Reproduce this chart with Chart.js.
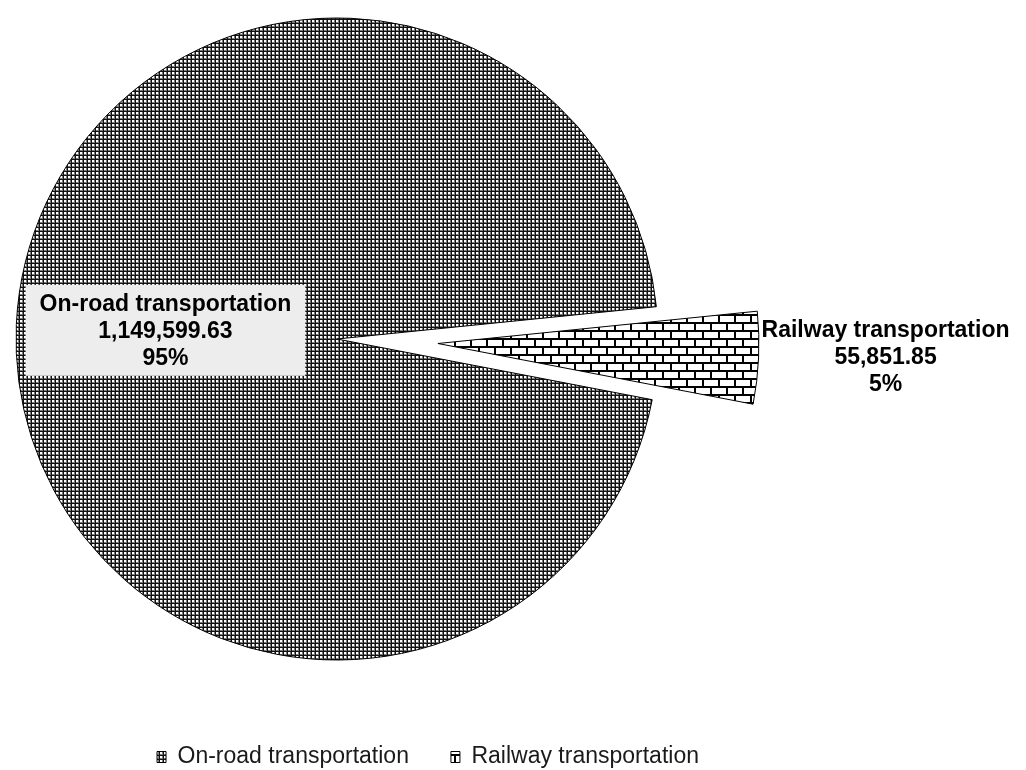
<!DOCTYPE html>
<html>
<head>
<meta charset="utf-8">
<script src="https://cdn.jsdelivr.net/npm/chart.js@4.4.1/dist/chart.umd.min.js"></script>
<style>
  html, body { margin: 0; padding: 0; background: #ffffff; overflow: hidden; }
  #wrap { position: relative; width: 1026px; height: 770px; overflow: hidden; background: #ffffff; }
  #c { position: absolute; left: 0; top: -100px; }
</style>
</head>
<body>
<div id="wrap"><canvas id="c" width="1026" height="880"></canvas></div>
<script>
// ---- data ----
const categories = ['On-road transportation', 'Railway transportation'];
const values = [1149599.63, 55851.85];

// ---- helpers ----
const canvas = document.getElementById('c');
const ctx = canvas.getContext('2d');

function makePattern(w, h, paint) {
  const t = document.createElement('canvas');
  t.width = w; t.height = h;
  const tc = t.getContext('2d');
  paint(tc);
  return ctx.createPattern(t, 'repeat');
}

// dense dotted grid (on-road)
const roadPattern = makePattern(4, 4, (g) => {
  g.fillStyle = '#ffffff'; g.fillRect(0, 0, 4, 4);
  g.fillStyle = '#7c7c7c'; g.fillRect(2, 0, 1, 3); g.fillRect(0, 2, 3, 1);
  g.fillStyle = '#111111'; g.fillRect(3, 0, 1, 4); g.fillRect(0, 3, 4, 1);
});

// brick pattern (railway)
const brickPattern = makePattern(16, 16, (g) => {
  g.fillStyle = '#ffffff'; g.fillRect(0, 0, 16, 16);
  g.fillStyle = '#000000';
  g.fillRect(0, 6, 16, 2);
  g.fillRect(0, 14, 16, 2);
  g.fillRect(14, 0, 2, 6);
  g.fillRect(6, 8, 2, 6);
});

const total = values.reduce((a, b) => a + b, 0);
const fmtValue = (v) => v.toLocaleString('en-US', { minimumFractionDigits: 2, maximumFractionDigits: 2 });
const fmtPct = (v) => Math.round(v / total * 100) + '%';

const EXPLODE = 101;
const LEGEND_DX = 91;
const LABEL_FONT = 'bold 23px "Liberation Sans", Arial, sans-serif';
const LINE_H = 27;

// explode the railway slice outward along its mid angle
const explodePlugin = {
  id: 'explode',
  afterDatasetUpdate(chart, args) {
    const arc = args.meta.data[1];
    if (!arc) return;
    const mid = (arc.startAngle + arc.endAngle) / 2;
    arc.x += Math.cos(mid) * EXPLODE;
    arc.y += Math.sin(mid) * EXPLODE;
  }
};

// move the legend block horizontally
const legendShift = {
  id: 'legendShift',
  afterLayout(chart) {
    const lg = chart.legend;
    if (lg) { lg.left += LEGEND_DX; lg.right += LEGEND_DX; }
  }
};

// data labels
const labelPlugin = {
  id: 'pieLabels',
  afterDatasetsDraw(chart) {
    const meta = chart.getDatasetMeta(0);
    const c = chart.ctx;
    c.save();
    c.font = LABEL_FONT;
    c.textAlign = 'center';
    c.textBaseline = 'middle';

    // On-road label (inside, with light box)
    const a0 = meta.data[0];
    const m0 = (a0.startAngle + a0.endAngle) / 2;
    const cx0 = a0.x + Math.cos(m0) * a0.outerRadius * 0.535;
    const cy0 = a0.y + Math.sin(m0) * a0.outerRadius * 0.535;
    const lines0 = [categories[0], fmtValue(values[0]), fmtPct(values[0])];
    const w0 = Math.max(...lines0.map(s => c.measureText(s).width));
    const bw = w0 + 28, bh = LINE_H * 3 + 10;
    c.fillStyle = '#ededed';
    c.fillRect(cx0 - bw / 2, cy0 - bh / 2 - 1, bw, bh);
    c.fillStyle = '#000000';
    lines0.forEach((s, i) => c.fillText(s, cx0, cy0 + (i - 1) * LINE_H));

    // Railway label (outside end)
    const a1 = meta.data[1];
    const m1 = (a1.startAngle + a1.endAngle) / 2;
    const ex = a1.x + Math.cos(m1) * a1.outerRadius;
    const ey = a1.y + Math.sin(m1) * a1.outerRadius;
    const lines1 = [categories[1], fmtValue(values[1]), fmtPct(values[1])];
    const w1 = Math.max(...lines1.map(s => c.measureText(s).width));
    const cx1 = ex + 3 + w1 / 2;
    lines1.forEach((s, i) => c.fillText(s, cx1, ey + (i - 1) * LINE_H));
    c.restore();
  }
};

new Chart(ctx, {
  type: 'pie',
  data: {
    labels: categories,
    datasets: [{
      data: values,
      backgroundColor: [roadPattern, brickPattern],
      borderColor: '#000000',
      borderWidth: 1,
      radius: 321,
      clip: false
    }]
  },
  options: {
    responsive: false,
    animation: false,
    rotation: 100.9,
    layout: { padding: { left: 0, right: 352, top: 74.5, bottom: 1.5 } },
    plugins: {
      legend: {
        position: 'bottom',
        labels: {
          font: { family: '"Liberation Sans", Arial, sans-serif', size: 23 },
          color: '#1a1a1a',
          boxWidth: 9,
          boxHeight: 11,
          padding: 42
        }
      },
      tooltip: { enabled: false }
    }
  },
  plugins: [explodePlugin, legendShift, labelPlugin]
});
</script>
</body>
</html>
